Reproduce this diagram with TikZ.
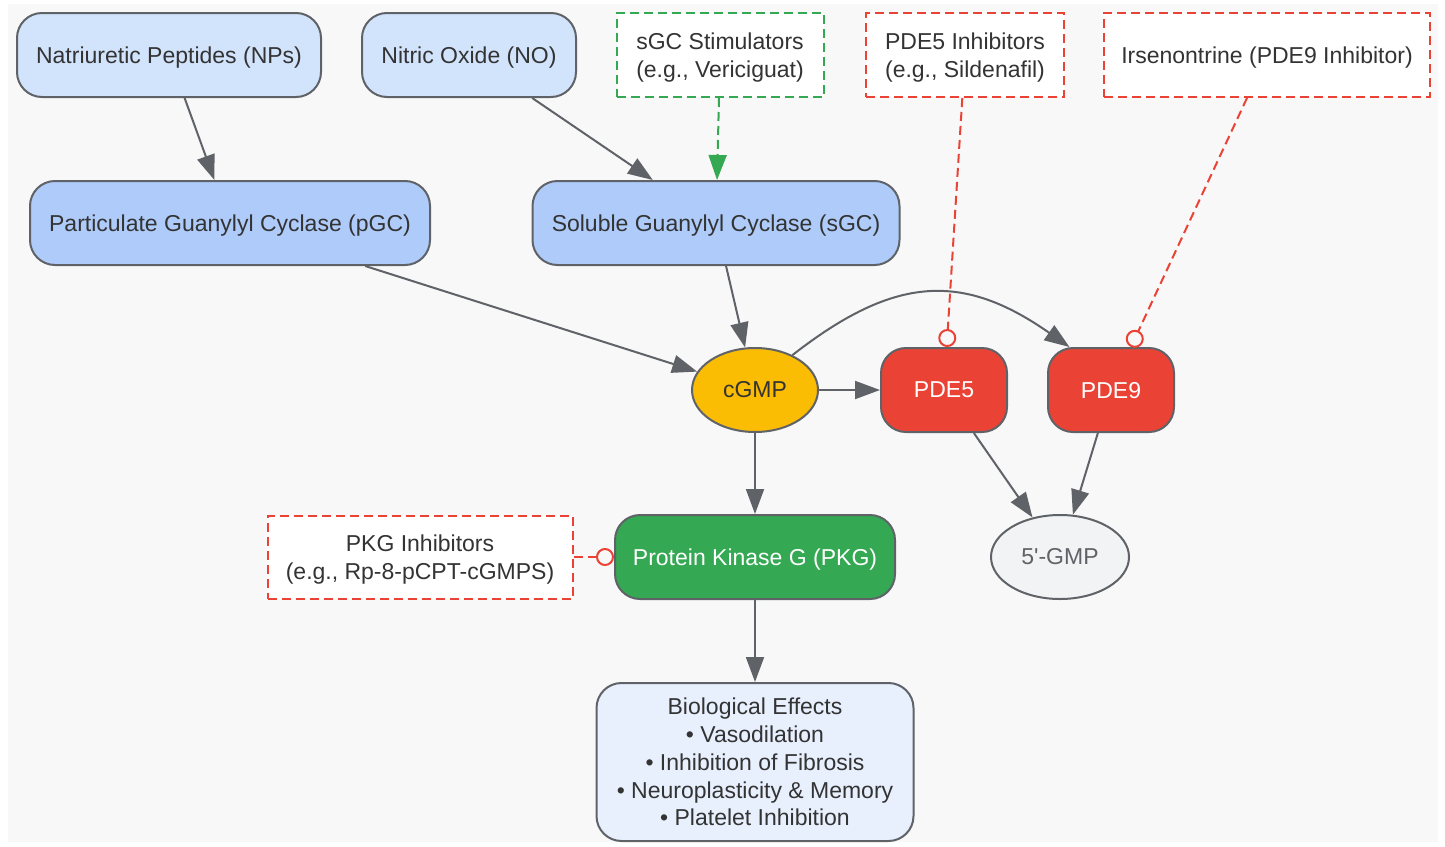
\documentclass[tikz,border=0pt]{standalone}
\usepackage{fontspec}
\setmainfont{Liberation Sans}
\usetikzlibrary{arrows.meta,shapes.geometric}

\definecolor{edgegray}{HTML}{5F6368}
\definecolor{textdark}{HTML}{333333}
\definecolor{paleblue}{HTML}{D2E3FC}
\definecolor{midblue}{HTML}{AECBFA}
\definecolor{lightblue}{HTML}{E8F0FE}
\definecolor{gmpyellow}{HTML}{FBBC04}
\definecolor{pdered}{HTML}{EA4335}
\definecolor{pkggreen}{HTML}{34A853}
\definecolor{gmpgray}{HTML}{F1F3F4}
\definecolor{canvas}{HTML}{F8F8F8}

\tikzset{
  box/.style={draw=edgegray,line width=2pt,rounded corners=25pt,inner sep=0pt,align=center,text=textdark,text depth=0pt},
  oval/.style={ellipse,draw=edgegray,line width=2pt,inner sep=0pt,text=textdark},
  drug/.style={draw,line width=2pt,dash pattern=on 9pt off 5pt,fill=white,inner sep=0pt,align=center,text=textdark,text depth=0pt},
  arr/.style={draw=edgegray,line width=2pt,-{Triangle[length=25pt,width=18pt]}},
  boost/.style={draw=pkggreen,line width=2pt,dash pattern=on 9pt off 5pt,-{Triangle[length=25pt,width=18pt]}},
  block/.style={draw=pdered,line width=2pt,dash pattern=on 9pt off 5pt,-{Circle[open,length=18pt,width=18pt]}}
}

\begin{document}
\begin{tikzpicture}[x=1pt,y=-1pt,font=\fontsize{23}{27.8}\selectfont]

      \useasboundingbox (0,0) rectangle (1445,846);
      \fill[canvas] (8,4) rectangle (1438,842);

      % sources and cyclases
      \begin{scope}[every node/.style={box,minimum height=84pt}]
        \node[fill=paleblue,minimum width=304pt] (np)  at (169,55)  {Natriuretic Peptides (NPs)};
        \node[fill=paleblue,minimum width=214pt] (no)  at (469,55)  {Nitric Oxide (NO)};
        \node[fill=midblue,minimum width=400pt]  (pgc) at (230,223) {Particulate Guanylyl Cyclase (pGC)};
        \node[fill=midblue,minimum width=367pt]  (sgc) at (716,223) {Soluble Guanylyl Cyclase (sGC)};
        \node[fill=pdered,text=white,minimum width=126pt] (pde5) at (944,390)  {PDE5};
        \node[fill=pdered,text=white,minimum width=126pt] (pde9) at (1111,390) {PDE9};
        \node[fill=pkggreen,text=white,minimum width=280pt] (pkg) at (755,557) {Protein Kinase G (PKG)};
        \node[fill=lightblue,minimum width=317pt,minimum height=158pt] (bio) at (755,762)
          {Biological Effects\\• Vasodilation\\• Inhibition of Fibrosis\\• Neuroplasticity \& Memory\\• Platelet Inhibition};
      \end{scope}

      \node[oval,fill=gmpyellow,minimum width=126pt,minimum height=84pt] (cgmp) at (755,390) {cGMP};
      \node[oval,fill=gmpgray,text=edgegray,minimum width=138pt,minimum height=84pt] (gmp) at (1060,557) {5\textquotesingle-GMP};

      % drugs
      \begin{scope}[every node/.style={drug,minimum height=84pt}]
        \node[draw=pkggreen,minimum width=207pt] (stim)   at (720,55)  {sGC Stimulators\\(e.g., Vericiguat)};
        \node[draw=pdered,minimum width=198pt]   (pde5i)  at (965,55)  {PDE5 Inhibitors\\(e.g., Sildenafil)};
        \node[draw=pdered,minimum width=326pt]   (pde9i)  at (1267,55) {Irsenontrine (PDE9 Inhibitor)};
        \node[draw=pdered,minimum width=305pt,minimum height=83pt] (pkgi) at (420,557) {PKG Inhibitors\\(e.g., Rp-8-pCPT-cGMPS)};
      \end{scope}

      \begin{scope}[every edge/.style={arr}]
        \path (np)   edge (pgc);
        \path (no)   edge (sgc);
        \path (pgc)  edge (cgmp);
        \path (sgc)  edge (cgmp);
        \path (cgmp) edge (pde5);
        \path (cgmp.43) edge[out=38,in=145,looseness=1.2] (pde9.134);
        \path (cgmp) edge (pkg);
        \path (pde5) edge (gmp);
        \path (pde9) edge (gmp);
        \path (pkg)  edge (bio);
      \end{scope}

      \path (stim)  edge[boost] (sgc);
      \begin{scope}[every edge/.style={block}]
        \path (pde5i) edge (pde5);
        \path (pde9i) edge (pde9);
        \path (pkgi)  edge (pkg);
      \end{scope}

    \end{tikzpicture}
\end{document}
